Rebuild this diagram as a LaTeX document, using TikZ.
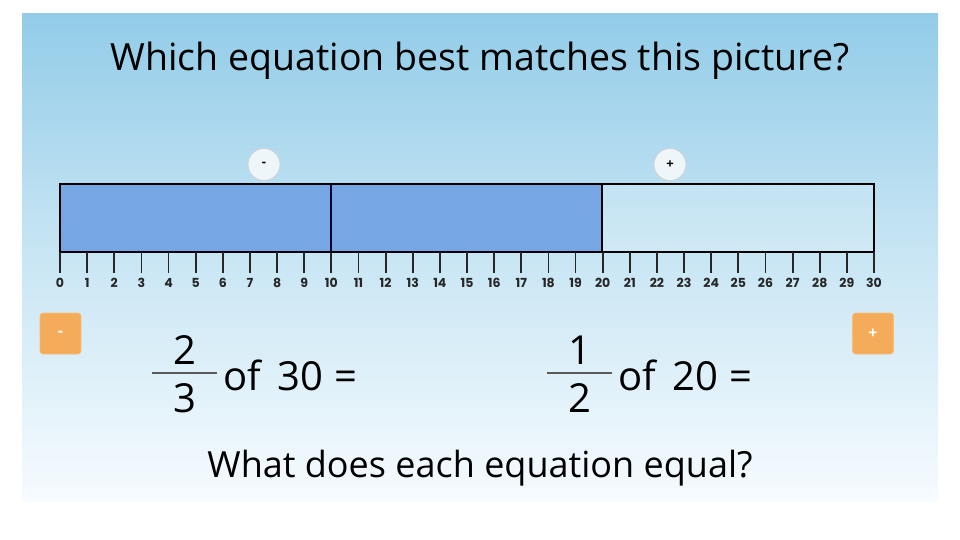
\documentclass[tikz,border=0pt]{standalone}
\usepackage{fontspec}
\setmainfont{Open Sans}
\newfontfamily\tickfont{Poppins}
\definecolor{bgtop}{RGB}{146,204,232}
\definecolor{bgbot}{RGB}{246,251,254}
\definecolor{barblue}{RGB}{118,166,228}
\definecolor{orangebtn}{RGB}{245,172,90}
\definecolor{circfill}{RGB}{238,246,250}
\definecolor{fracgray}{RGB}{90,90,90}
\tikzset{
  titletext/.style={font=\fontsize{37.5}{44}\selectfont, text=black, inner sep=0pt},
  qtext/.style={font=\fontsize{36}{42}\selectfont, text=black, inner sep=0pt},
  eqtext/.style={font=\fontsize{40}{46}\selectfont, text=black, inner sep=0pt, anchor=base},
  ticklabel/.style={font=\tickfont\bfseries\fontsize{12.5}{14}\selectfont, text=black!85, inner sep=0pt},
  roundbtn/.style={circle, minimum size=32pt, inner sep=0pt, fill=circfill, draw=black!18, line width=0.8pt, font=\bfseries\fontsize{13}{14}\selectfont},
  squarebtn/.style={rectangle, rounded corners=3pt, minimum size=41pt, inner sep=0pt, fill=orangebtn, draw=orangebtn!80!white, line width=0.6pt, text=white, font=\bfseries\fontsize{16}{18}\selectfont},
  fracbar/.style={draw=fracgray, line width=2.6pt},
  barline/.style={draw=black, line width=2pt},
  tickline/.style={draw=black!85, line width=1.8pt}
}
\begin{document}
\begin{tikzpicture}[x=1pt,y=-1pt]
\useasboundingbox (0,0) rectangle (960,540);
\fill[white] (0,0) rectangle (960,540);
\shade[top color=bgtop, bottom color=bgbot, middle color=bgtop!45!bgbot] (22,14) rectangle (938,501);
% title
\node[titletext, anchor=base] (title) at (480,71) {Which equation best matches this picture?};
% bar
\fill[barblue] (60,184) rectangle (602,252);
\fill[white, opacity=0.15] (602,184) rectangle (874,252);
\draw[barline] (60,184) rectangle (874,252);
\draw[draw=black!80!blue, line width=1.3pt] (331,184) -- (331,252);
\draw[draw=black, line width=1.5pt] (602,184) -- (602,252);
% ticks
\foreach \i in {0,...,30} {
  \pgfmathsetmacro{\xx}{60+\i*27.133}
  \draw[tickline] (\xx,252) -- (\xx,273);
  \node[ticklabel] (t\i) at (\xx,283) {\i};
}
% round buttons
\node[roundbtn] (minuscirc) at (264,164.5) {-};
\node[roundbtn] (pluscirc) at (670,164.5) {+};
% orange buttons
\node[squarebtn] (minussq) at (60.5,333.5) {-};
\node[squarebtn] (plussq) at (873,333.5) {+};
% equation 1
\draw[fracbar] (152,373) -- (217,373);
\node[eqtext] (num1) at (184.5,364) {2};
\node[eqtext] (den1) at (184.5,412) {3};
\node[eqtext, anchor=base west] (eq1) at (223,390) {of\, 30 =};
% equation 2
\draw[fracbar] (547,373) -- (612,373);
\node[eqtext] (num2) at (579.5,364) {1};
\node[eqtext] (den2) at (579.5,412) {2};
\node[eqtext, anchor=base west] (eq2) at (618,390) {of\, 20 =};
% bottom question
\node[qtext, anchor=base] (question) at (480,477) {What does each equation equal?};
\end{tikzpicture}
\end{document}
